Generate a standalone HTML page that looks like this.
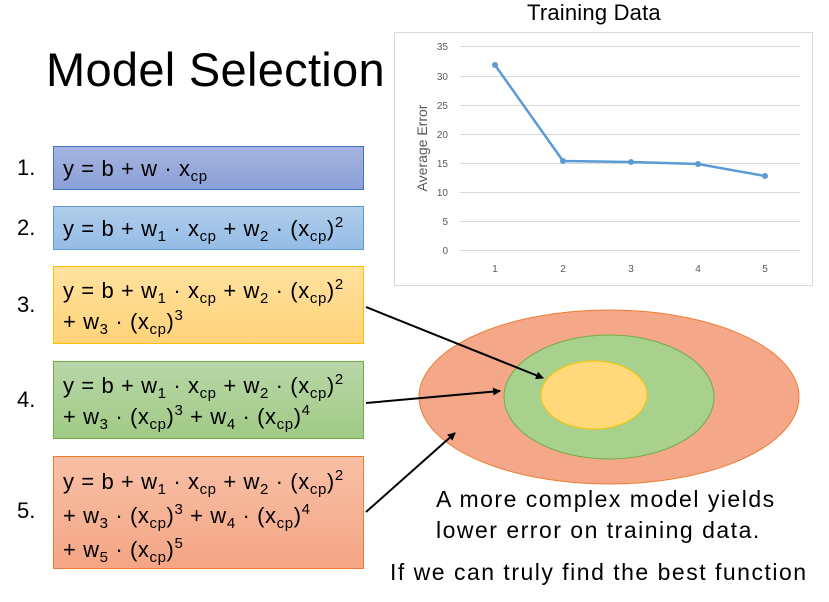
<!DOCTYPE html>
<html><head><style>
body{margin:0;width:829px;height:602px;background:#fff;position:relative;overflow:hidden;font-family:"Liberation Sans",sans-serif;}
.t{position:absolute;white-space:nowrap;color:#000;}
.box{position:absolute;left:53px;width:311px;box-sizing:border-box;padding:2px 0 0 9px;font-size:22px;letter-spacing:0.6px;line-height:31px;white-space:nowrap;}
.n{position:absolute;left:17px;font-size:22px;}
sub{font-size:15px;vertical-align:-5px;line-height:0}
sup{font-size:15px;vertical-align:9px;line-height:0}
</style></head><body>
<div class="t" style="left:46px;top:42px;font-size:47px;letter-spacing:0.3px">Model Selection</div>
<div class="n" style="top:155px">1.</div>
<div class="n" style="top:215px">2.</div>
<div class="n" style="top:292px">3.</div>
<div class="n" style="top:387px">4.</div>
<div class="n" style="top:498px">5.</div>
<div class="box" style="top:146px;height:44px;background:linear-gradient(#a6b4e0,#8aa0d6);border:1px solid #4472c4;padding-top:6px">y = b + w · x<sub>cp</sub></div>
<div class="box" style="top:206px;height:44px;background:linear-gradient(#b0cdeb,#95bce6);border:1px solid #5b9bd5;padding-top:6px">y = b + w<sub>1</sub> · x<sub>cp</sub> + w<sub>2</sub> · (x<sub>cp</sub>)<sup>2</sup></div>
<div class="box" style="top:266px;height:78px;background:linear-gradient(#ffe19e,#ffd37a);border:1px solid #ffc000;padding-top:8px">y = b + w<sub>1</sub> · x<sub>cp</sub> + w<sub>2</sub> · (x<sub>cp</sub>)<sup>2</sup><br>+ w<sub>3</sub> · (x<sub>cp</sub>)<sup>3</sup></div>
<div class="box" style="top:361px;height:78px;background:linear-gradient(#b9d6a8,#9fcb85);border:1px solid #70ad47;padding-top:8px">y = b + w<sub>1</sub> · x<sub>cp</sub> + w<sub>2</sub> · (x<sub>cp</sub>)<sup>2</sup><br>+ w<sub>3</sub> · (x<sub>cp</sub>)<sup>3</sup> + w<sub>4</sub> · (x<sub>cp</sub>)<sup>4</sup></div>
<div class="box" style="top:456px;height:113px;background:linear-gradient(#f8c0a6,#f4a585);border:1px solid #ed7d31;padding-top:8px;line-height:34px">y = b + w<sub>1</sub> · x<sub>cp</sub> + w<sub>2</sub> · (x<sub>cp</sub>)<sup>2</sup><br>+ w<sub>3</sub> · (x<sub>cp</sub>)<sup>3</sup> + w<sub>4</sub> · (x<sub>cp</sub>)<sup>4</sup><br>+ w<sub>5</sub> · (x<sub>cp</sub>)<sup>5</sup></div>
<div class="t" style="left:527px;top:0px;font-size:22px;letter-spacing:0.2px">Training Data</div>
<svg width="829" height="602" style="position:absolute;left:0;top:0">
<rect x="394.5" y="32.5" width="418" height="253" fill="none" stroke="#d9d9d9"/>
<g stroke="#d9d9d9" stroke-width="1">
<line x1="460" x2="800" y1="46.5" y2="46.5"/><line x1="460" x2="800" y1="76.5" y2="76.5"/><line x1="460" x2="800" y1="105.5" y2="105.5"/><line x1="460" x2="800" y1="134.5" y2="134.5"/><line x1="460" x2="800" y1="163.5" y2="163.5"/><line x1="460" x2="800" y1="192.5" y2="192.5"/><line x1="460" x2="800" y1="221.5" y2="221.5"/><line x1="460" x2="800" y1="250.5" y2="250.5"/>
</g>
<g font-family="Liberation Sans" font-size="10" fill="#595959" text-anchor="end">
<text x="448" y="50">35</text><text x="448" y="80">30</text><text x="448" y="109">25</text><text x="448" y="138">20</text><text x="448" y="167">15</text><text x="448" y="196">10</text><text x="448" y="225">5</text><text x="448" y="254">0</text>
</g>
<g font-family="Liberation Sans" font-size="10" fill="#595959" text-anchor="middle">
<text x="495" y="272">1</text><text x="563" y="272">2</text><text x="631" y="272">3</text><text x="698" y="272">4</text><text x="765" y="272">5</text>
</g>
<text transform="translate(427,148) rotate(-90)" font-family="Liberation Sans" font-size="14" fill="#595959" text-anchor="middle">Average Error</text>
<polyline points="495,65 563,161 631,162 698,164 765,176" fill="none" stroke="#5b9bd5" stroke-width="2.5"/>
<g fill="#5b9bd5"><circle cx="495" cy="65" r="3"/><circle cx="563" cy="161" r="3"/><circle cx="631" cy="162" r="3"/><circle cx="698" cy="164" r="3"/><circle cx="765" cy="176" r="3"/></g>
<ellipse cx="609" cy="397" rx="190" ry="87" fill="#f4a889" stroke="#ed7d31"/>
<ellipse cx="609" cy="397" rx="105" ry="62" fill="#a9d18e" stroke="#70ad47"/>
<ellipse cx="594" cy="395" rx="53" ry="34" fill="#ffd97a" stroke="#ffc000"/>
<defs><marker id="a" markerWidth="8" markerHeight="8" refX="7" refY="4" orient="auto" markerUnits="userSpaceOnUse"><path d="M0,0 L8,4 L0,8z" fill="#000"/></marker></defs>
<g stroke="#000" stroke-width="2" marker-end="url(#a)">
<line x1="366" y1="307" x2="543" y2="378"/>
<line x1="366" y1="403" x2="500" y2="391"/>
<line x1="366" y1="512" x2="455" y2="433"/>
</g>
</svg>
<div class="t" style="left:436px;top:484px;font-size:23px;letter-spacing:1.5px;line-height:31px;">A more complex model yields<br>lower error on training data.</div>
<div class="t" style="left:390px;top:559px;font-size:23px;letter-spacing:1.5px">If we can truly find the best function</div>
</body></html>
